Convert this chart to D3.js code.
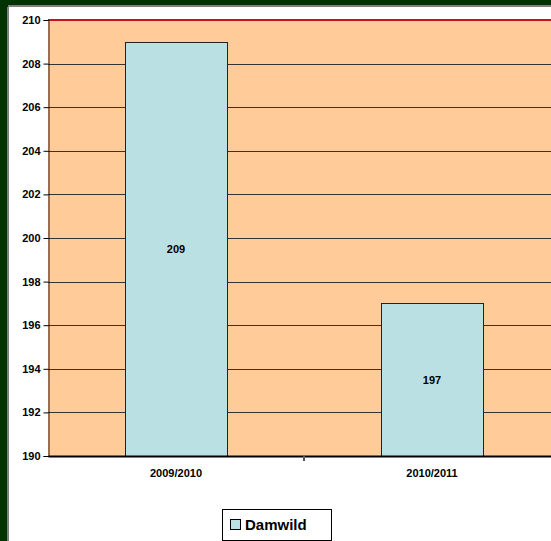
<!DOCTYPE html>
<html>
<head>
    <style>
        body { margin: 0; background: #fff; }
        svg text { font-family: "Liberation Sans", Arial, sans-serif; font-weight: bold; fill: #000; }
        .axis text { font-size: 11px; }
        .val { font-size: 11px; text-anchor: middle; }
        .legend text { font-size: 15px; }
    </style>
    <script src="https://d3js.org/d3.v7.min.js"></script>
</head>
<body>
    <svg width="551" height="541"></svg>
    <script>
        var seasons = ["2009/2010", "2010/2011"];
        var damwild = [209, 197];
        var yTicks = [190, 192, 194, 196, 198, 200, 202, 204, 206, 208, 210];

        var svg = d3.select("svg");

        // window frame (green strips with ruler ticks)
        svg.append("rect").attr("x", 0).attr("y", 0).attr("width", 551).attr("height", 7).attr("fill", "#003300");
        svg.append("rect").attr("x", 0).attr("y", 0).attr("width", 8).attr("height", 541).attr("fill", "#003300");
        svg.append("rect").attr("x", 8).attr("y", 5).attr("width", 543).attr("height", 2).attr("fill", "#808080");
        svg.append("rect").attr("x", 7).attr("y", 7).attr("width", 2).attr("height", 534).attr("fill", "#808080");

        var plotL = 48, plotR = 560, plotT = 20, plotB = 456;

        var x = d3.scaleBand().domain(seasons).range([plotL, plotR]).paddingInner(0.6).paddingOuter(0.3);
        var xb = d3.scaleBand().domain(seasons).range([plotL, plotR]);
        var y = d3.scaleLinear().domain([190, 210]).range([plotB, plotT]);

        svg.append("rect")
           .attr("x", plotL).attr("y", plotT)
           .attr("width", plotR - plotL).attr("height", plotB - plotT)
           .attr("fill", "#FFCC99");

        svg.append("g").selectAll("line")
           .data(yTicks.slice(1, -1))
           .enter().append("line")
           .attr("x1", plotL).attr("x2", plotR)
           .attr("y1", function(d) { return Math.round(y(d)) + 0.5; })
           .attr("y2", function(d) { return Math.round(y(d)) + 0.5; })
           .attr("stroke", "#333").attr("stroke-width", 1);

        // red top border
        svg.append("line").attr("x1", plotL).attr("x2", plotR)
           .attr("y1", y(210)).attr("y2", y(210))
           .attr("stroke", "#cc1111").attr("stroke-width", 2);

        svg.append("g").selectAll("rect")
           .data(damwild)
           .enter().append("rect")
           .attr("x", function(d, i) { return Math.round(x(seasons[i])) + 0.5; })
           .attr("y", function(d) { return Math.round(y(d)) + 0.5; })
           .attr("width", Math.round(x.bandwidth()))
           .attr("height", function(d) { return plotB - Math.round(y(d)); })
           .attr("fill", "#BBE0E3")
           .attr("stroke", "#222").attr("stroke-width", 1);

        svg.append("g").selectAll("text")
           .data(damwild)
           .enter().append("text")
           .attr("class", "val")
           .attr("x", function(d, i) { return x(seasons[i]) + x.bandwidth() / 2; })
           .attr("y", function(d) { return (y(d) + plotB) / 2 + 4; })
           .text(function(d) { return d; });

        var yAxis = svg.append("g")
           .attr("class", "axis")
           .attr("transform", "translate(" + (plotL + 0.5) + ",0)")
           .call(d3.axisLeft(y).tickValues(yTicks).tickSize(5).tickPadding(3));
        yAxis.select(".domain").attr("stroke", "#331100");

        var xAxis = svg.append("g")
           .attr("class", "axis")
           .attr("transform", "translate(0," + plotB + ")")
           .call(d3.axisBottom(xb).tickSize(0).tickPadding(13));
        xAxis.select(".domain").attr("stroke", "#000").attr("stroke-width", 2);
        xAxis.selectAll(".sep")
           .data(seasons.slice(1))
           .enter().append("line")
           .attr("x1", function(d) { return xb(d); })
           .attr("x2", function(d) { return xb(d); })
           .attr("y1", 0).attr("y2", 5)
           .attr("stroke", "#555").attr("stroke-width", 2);

        var legend = svg.append("g").attr("class", "legend");
        legend.append("rect").attr("x", 222.5).attr("y", 509.5).attr("width", 109).attr("height", 31)
              .attr("fill", "#fff").attr("stroke", "#000");
        legend.append("rect").attr("x", 230.5).attr("y", 519.5).attr("width", 10).attr("height", 10)
              .attr("fill", "#BBE0E3").attr("stroke", "#000");
        legend.append("text").attr("x", 245).attr("y", 530).text("Damwild");
    </script>
</body>
</html>
